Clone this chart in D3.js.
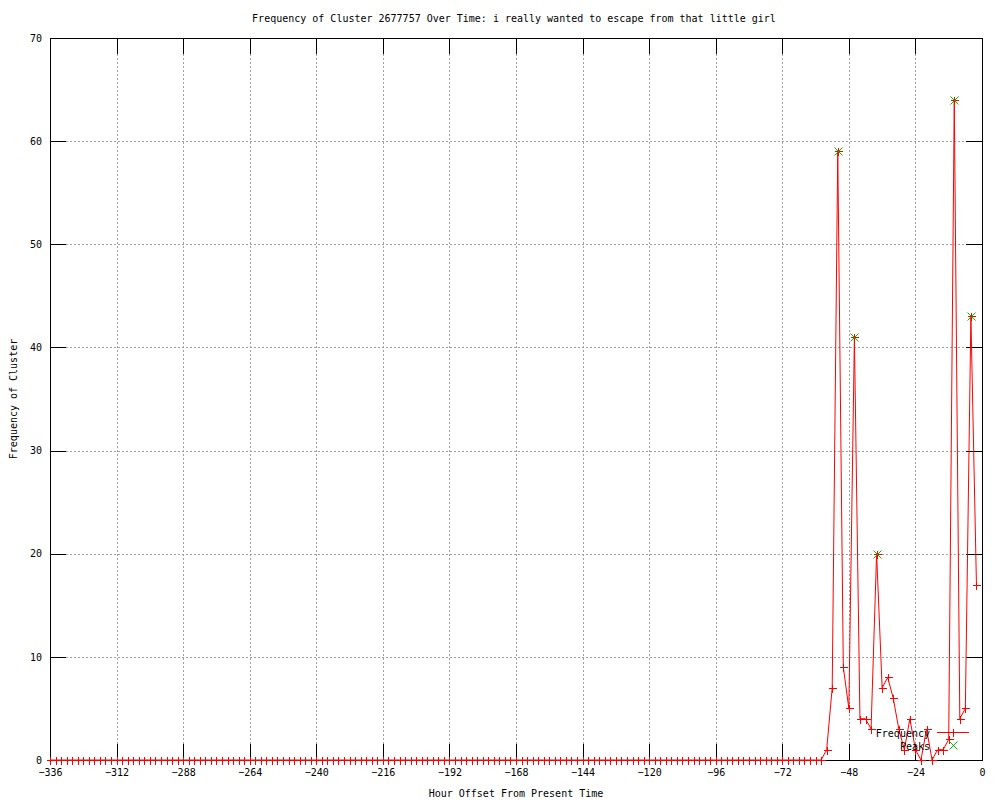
<!DOCTYPE html>
<html>
<head>
<meta charset="utf-8">
<script src="https://cdn.jsdelivr.net/npm/d3@7"></script>
<style>
  body { margin: 0; background: #fff; }
  text { font-family: "DejaVu Sans Mono", monospace; font-size: 10px; fill: #000; }
</style>
</head>
<body>
<div id="chart"></div>
<script>
// hours -336 .. -2, every 2 hours
const hours = d3.range(-336, 0, 2);
// nonzero counts, the rest of the window is 0
const activeHours = [-56, -54, -52, -50, -48, -46, -44, -42, -40, -38, -36, -34, -32, -30, -28, -26, -24, -22, -20, -18, -16, -14, -12, -10, -8, -6, -4, -2];
const activeFreq  = [1, 7, 59, 9, 5, 41, 4, 4, 3, 20, 7, 8, 6, 3, 1, 4, 1, 0, 3, 0, 1, 1, 2, 64, 4, 5, 43, 17];
const peakHours = [-52, -46, -38, -10, -4];
const peakFreq  = [59, 41, 20, 64, 43];
const xTicks = [-336, -312, -288, -264, -240, -216, -192, -168, -144, -120, -96, -72, -48, -24, 0];
const yTicks = [0, 10, 20, 30, 40, 50, 60, 70];

const title = "Frequency of Cluster 2677757 Over Time: i really wanted to escape from that little girl";

var freq = hours.map(function (h) {
    var i = activeHours.indexOf(h);
    return {h: h, v: i < 0 ? 0 : activeFreq[i]};
});
var peaks = peakHours.map(function (h, i) { return {h: h, v: peakFreq[i]}; });

var W = 1000, H = 800;
var margin = {top: 38, right: 18, bottom: 40, left: 50};
var width = W - margin.left - margin.right,
    height = H - margin.top - margin.bottom;

var svg = d3.select("#chart").append("svg")
    .attr("width", W).attr("height", H);

var g = svg.append("g")
    .attr("transform", "translate(" + margin.left + "," + margin.top + ")");

var x = d3.scaleLinear().domain([-336, 0]).range([0, width]);
var y = d3.scaleLinear().domain([0, 70]).range([height, 0]);

// grid
var grid = g.append("g").attr("shape-rendering", "crispEdges")
    .style("stroke", "#a0a0a0").style("stroke-dasharray", "2,2");
grid.selectAll(".gx").data(xTicks.slice(1, -1)).enter().append("line")
    .attr("x1", function (d) { return Math.round(x(d)) + 0.5; })
    .attr("x2", function (d) { return Math.round(x(d)) + 0.5; })
    .attr("y1", 0).attr("y2", height);
grid.selectAll(".gy").data(yTicks.slice(1, -1)).enter().append("line")
    .attr("y1", function (d) { return Math.round(y(d)) + 0.5; })
    .attr("y2", function (d) { return Math.round(y(d)) + 0.5; })
    .attr("x1", 0).attr("x2", width);

// axes, ticks inside and mirrored
function styleAxis(sel) {
    sel.attr("shape-rendering", "crispEdges");
    sel.select(".domain").remove();
    sel.selectAll("line").attr("stroke", "#000");
    sel.selectAll("text").style("font-family", "DejaVu Sans Mono, monospace").style("font-size", "10px");
}
g.append("g").attr("transform", "translate(0," + height + ")")
    .call(d3.axisBottom(x).tickValues(xTicks).tickSize(-16).tickPadding(9))
    .call(styleAxis);
g.append("g")
    .call(d3.axisTop(x).tickValues(xTicks).tickSize(-16).tickFormat(""))
    .call(styleAxis);
g.append("g")
    .call(d3.axisLeft(y).tickValues(yTicks).tickSize(-16).tickPadding(8))
    .call(styleAxis);
g.append("g").attr("transform", "translate(" + width + ",0)")
    .call(d3.axisRight(y).tickValues(yTicks).tickSize(-16).tickFormat(""))
    .call(styleAxis);

// border
g.append("rect").attr("x", 0.5).attr("y", 0.5).attr("width", width).attr("height", height)
    .attr("fill", "none").attr("stroke", "#000").attr("shape-rendering", "crispEdges");

// frequency line
var line = d3.line().x(function (d) { return x(d.h); }).y(function (d) { return y(d.v); });
g.append("path").datum(freq).attr("d", line)
    .attr("fill", "none").attr("stroke", "#ff0000").attr("stroke-width", 1);

function plus(sel, s) {
    sel.append("path").attr("d", "M" + (-s) + ",0H" + s + "M0," + (-s) + "V" + s)
        .attr("stroke", "#ff0000").attr("fill", "none").attr("shape-rendering", "crispEdges");
}
function cross(sel, s) {
    sel.append("path").attr("d", "M" + (-s) + "," + (-s) + "L" + s + "," + s + "M" + (-s) + "," + s + "L" + s + "," + (-s))
        .attr("stroke", "#00c000").attr("fill", "none");
}

g.selectAll(".pt").data(freq).enter().append("g")
    .attr("transform", function (d) { return "translate(" + (Math.round(x(d.h)) + 0.5) + "," + (Math.round(y(d.v)) + 0.5) + ")"; })
    .each(function () { plus(d3.select(this), 4); });

// peaks
g.selectAll(".pk").data(peaks).enter().append("g")
    .attr("transform", function (d) { return "translate(" + (Math.round(x(d.h)) + 0.5) + "," + (Math.round(y(d.v)) + 0.5) + ")"; })
    .each(function () { cross(d3.select(this), 4); });

// legend
var leg = svg.append("g");
leg.append("text").attr("x", 930).attr("y", 737).attr("text-anchor", "end").text("Frequency");
leg.append("line").attr("x1", 937).attr("x2", 969).attr("y1", 732.5).attr("y2", 732.5)
    .attr("stroke", "#ff0000").attr("shape-rendering", "crispEdges");
plus(leg.append("g").attr("transform", "translate(953.5,732.5)"), 4);
leg.append("text").attr("x", 930).attr("y", 750).attr("text-anchor", "end").text("Peaks");
cross(leg.append("g").attr("transform", "translate(953.5,745.5)"), 4);

// titles
svg.append("text").attr("x", 514).attr("y", 22).attr("text-anchor", "middle").text(title);
svg.append("text").attr("x", 516).attr("y", 797).attr("text-anchor", "middle").text("Hour Offset From Present Time");
svg.append("text").attr("transform", "translate(17,399) rotate(-90)")
    .attr("text-anchor", "middle").text("Frequency of Cluster");
</script>
</body>
</html>
